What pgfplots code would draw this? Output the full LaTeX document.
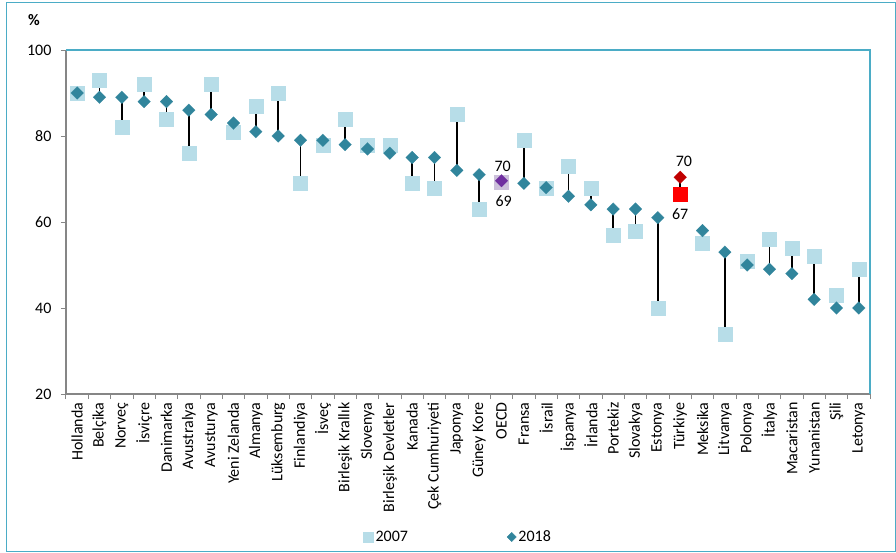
\documentclass[border=0pt]{standalone}
\usepackage{fontspec}
\setmainfont{Carlito}
\usepackage{pgfplots}
\usepackage{pgfplotstable}
\pgfplotsset{compat=1.18}
\definecolor{c07}{HTML}{B7DDE8}
\definecolor{c18}{HTML}{31859C}
\definecolor{axgray}{HTML}{868686}
\definecolor{frameblue}{HTML}{4BACC6}
\definecolor{oecdD}{HTML}{7030A0}
\definecolor{oecdS}{HTML}{CCC0DA}
\definecolor{trD}{HTML}{C00000}
\definecolor{trS}{HTML}{FF0000}

\pgfplotstableread{
x a b
0 90 90
1 93 89
2 82 89
3 92 88
4 84 88
5 76 86
6 92 85
7 81 83
8 87 81
9 90 80
10 69 79
11 78 79
12 84 78
13 78 77
14 78 76
15 69 75
16 68 75
17 85 72
18 63 71
19 69.4 69.6
20 79 69
21 68 68
22 73 66
23 68 64
24 57 63
25 58 63
26 40 61
27 66.6 70.4
28 55 58
29 34 53
30 51 50
31 56 49
32 54 48
33 52 42
34 43 40
35 49 40
}\data

\newcommand{\fs}{\fontsize{16}{19}\selectfont}

\begin{document}
\begin{tikzpicture}
\useasboundingbox (-66pt,-158pt) rectangle (830pt,394pt);
\draw[frameblue, line width=1pt] (-59pt,-157pt) rectangle (829pt,391.5pt);
\node[font=\fs\bfseries] at (-32pt,374pt) {\%};
\begin{axis}[
  at={(0pt,0pt)}, anchor=south west,
  scale only axis, width=804pt, height=344pt,
  xmin=-0.5, xmax=35.5, ymin=20, ymax=100,
  axis lines*=left,
  axis line style={axgray, line width=1.2pt},
  ytick={20,40,60,80,100},
  xtick={0,...,35},
  xticklabels={Hollanda, Belçika, Norveç, İsviçre, Danimarka, Avustralya, Avusturya, Yeni Zelanda, Almanya, Lüksemburg, Finlandiya, İsveç, Birleşik Krallık, Slovenya, Birleşik Devletler, Kanada, Çek Cumhuriyeti, Japonya, Güney Kore, OECD, Fransa, İsrail, İspanya, İrlanda, Portekiz, Slovakya, Estonya, Türkiye, Meksika, Litvanya, Polonya, İtalya, Macaristan, Yunanistan, Şili, Letonya},
  minor xtick={-0.5,0.5,...,35.5},
  tick align=outside,
  major tick length=5pt, minor tick length=5pt,
  major x tick style={draw=none},
  minor x tick style={axgray, line width=1pt},
  ytick style={axgray, line width=1pt},
  xticklabel style={rotate=90, anchor=east, font=\fs, text=black},
  yticklabel style={font=\fs, text=black, xshift=-6pt},
  /pgf/number format/assume math mode=true,
  clip=false,
  legend style={draw=none, fill=none, at={(0.4876,-0.4157)}, anchor=center, font=\fs,
    /tikz/every even column/.append style={column sep=97pt}},
  legend columns=2,
]
\draw[frameblue, line width=1.2pt] (rel axis cs:0,1) -- (rel axis cs:1,1) -- (rel axis cs:1,0);

\addplot[draw=none, mark=none, forget plot,
  error bars/.cd, y dir=plus, y explicit, error mark=none,
  error bar style={black, line width=1.5pt}]
  table[x=x, y=a, y error expr=\thisrow{b}-\thisrow{a}] {\data};

\addplot[only marks, color=c07, mark=square*, mark size=7pt, mark options={draw=c07, fill=c07, line width=0.1pt},
  skip coords between index={19}{20}, skip coords between index={27}{28},
  legend image code/.code={\fill[c07] (-5pt,-5pt) rectangle (5pt,5pt);}]
  table[x=x, y=a] {\data};
\addlegendentry{2007}

\addplot[only marks, color=c18, mark=square*, mark size=4.5pt, mark options={rotate=45, draw=c18, fill=c18, line width=0.1pt},
  skip coords between index={19}{20}, skip coords between index={27}{28},
  legend image code/.code={\fill[c18] (0pt,4.5pt) -- (4.5pt,0pt) -- (0pt,-4.5pt) -- (-4.5pt,0pt) -- cycle;}]
  table[x=x, y=b] {\data};
\addlegendentry{2018}

\addplot[only marks, forget plot, color=oecdS, mark=square*, mark size=7pt, mark options={draw=oecdS, fill=oecdS, line width=0.1pt}]
  coordinates {(19,69.4)};
\addplot[only marks, forget plot, color=oecdD, mark=square*, mark size=4.5pt, mark options={rotate=45, draw=oecdD, fill=oecdD, line width=0.1pt}]
  coordinates {(19,69.6)};
\addplot[only marks, forget plot, color=trS, mark=square*, mark size=7pt, mark options={draw=trS, fill=trS, line width=0.1pt}]
  coordinates {(27,66.6)};
\addplot[only marks, forget plot, color=trD, mark=square*, mark size=4.5pt, mark options={rotate=45, draw=trD, fill=trD, line width=0.1pt}]
  coordinates {(27,70.4)};

\node[font=\fs] at (axis cs:19.05,73.0) {70};
\node[font=\fs] at (axis cs:19.1,64.9) {69};
\node[font=\fs] at (axis cs:27.17,74.2) {70};
\node[font=\fs] at (axis cs:27,61.9) {67};
\end{axis}
\end{tikzpicture}
\end{document}
